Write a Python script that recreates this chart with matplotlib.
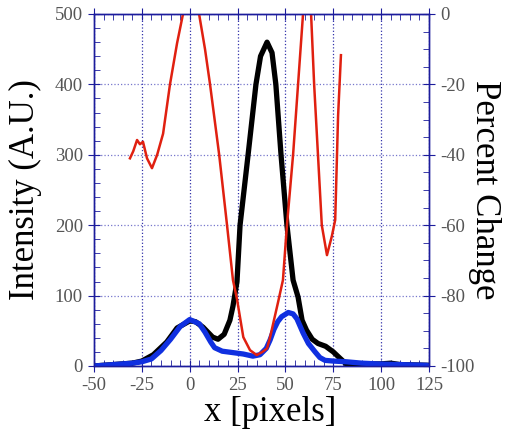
import matplotlib
matplotlib.use("Agg")
import matplotlib.pyplot as plt
from matplotlib.ticker import MultipleLocator

# intensity curves (left axis)
black_x = [-50, -40, -30, -25, -19, -12, -6.6, 0, 3, 7, 12, 14.8, 18, 21, 22.6, 24.7, 26.3,
           30.5, 34.6, 37, 40.4, 43, 45, 47.7, 50.8, 54, 56.6, 58.7, 61, 64, 67, 71,
           75, 78.5, 81.7, 90, 100, 105, 110, 125]
black_y = [0, 2, 4, 7, 16, 34, 54, 64, 63, 55, 41, 38, 45, 65, 85, 120, 200,
           300, 400, 440, 460, 445, 400, 300, 200, 122, 98, 65, 51, 38, 32, 28,
           20, 11, 3, 3, 3, 4, 2, 1]

blue_x = [-50, -40, -30, -25, -20, -15, -10, -5, 0, 5, 8, 11, 13, 17, 22.6, 28, 33,
          36.7, 40, 42, 44, 46, 48, 51.5, 54, 56, 59.2, 62, 65.5, 68, 70.7, 75, 81.7,
          90, 98, 110, 124]
blue_y = [0, 2, 4, 6, 10, 22, 38, 56, 66, 60, 48, 34, 26, 21, 19, 17, 14,
          16, 25, 37, 52, 63, 70, 76, 74, 67, 47, 32, 20, 12, 8, 7, 6,
          4, 3, 2, 1]

# percent change (right axis)
red_x = [-31.2, -29.5, -27.5, -26, -24.4, -22.3, -19.7, -17, -13.9, -10.3, -6.6, -3.5,
         0, 3, 4.9, 8, 10.6, 15.4, 19.5, 22.6, 24.7, 28, 31.5, 35, 38, 40.4, 42, 46.1,
         48.7, 50.8, 54, 56.6, 59.2, 61, 63.4, 65, 67, 69, 71.7, 74.3, 76, 77.5, 79]
red_y = [-41, -39, -35.8, -37, -36.3, -41, -43.8, -40, -34, -20, -8.3, 0,
         8, 6, 0, -10, -19.9, -40, -60, -75.6, -81, -91.8, -95.5, -96.9, -96, -95, -91.8, -82,
         -75.6, -60, -40, -20, 0, 6, 0, -20, -40, -60, -68.5, -63, -58.5, -29, -11.7]

x_ticks = [-50, -25, 0, 25, 50, 75, 100, 125]
left_ticks = [0, 100, 200, 300, 400, 500]
right_ticks = [0, -20, -40, -60, -80, -100]

plt.rcParams['font.family'] = ['Liberation Serif', 'DejaVu Serif']
plt.rcParams['axes.unicode_minus'] = False
navy = '#1c1c9c'
gray = '#555555'

fig = plt.figure(figsize=(5.08, 4.32), dpi=100)
ax = fig.add_axes([0.185, 0.1528, 0.6595, 0.8148])
ax2 = ax.twinx()

ax.plot(black_x, black_y, color='black', lw=3.8, solid_capstyle='round', zorder=3)
ax.plot(blue_x, blue_y, color='#1030e0', lw=3.8, solid_capstyle='round', zorder=4)
ax2.plot(red_x, red_y, color='#e02010', lw=1.8)

ax.set_xlim(-50, 125)
ax.set_ylim(0, 500)
ax2.set_ylim(-100, 0)

ax.set_xticks(x_ticks)
ax.set_yticks(left_ticks)
ax2.set_yticks(right_ticks)
ax.xaxis.set_minor_locator(MultipleLocator(5))
ax.yaxis.set_minor_locator(MultipleLocator(20))
ax2.yaxis.set_minor_locator(MultipleLocator(5))

ax.grid(True, axis='x', which='major', color='#3333aa', linestyle=':', lw=0.9)
ax.grid(True, axis='y', which='major', color='#7777cc', linestyle=':', lw=0.9)

for a in (ax, ax2):
    for s in a.spines.values():
        s.set_color(navy)
        s.set_linewidth(1.0)

ax.tick_params(which='major', direction='inout', length=9, color=navy, labelsize=13.5,
               labelcolor=gray, top=True)
ax.tick_params(which='minor', direction='in', length=4, color=navy, top=True)
ax2.tick_params(which='major', direction='inout', length=9, color=navy, labelsize=13.5,
                labelcolor=gray)
ax2.tick_params(which='minor', direction='in', length=4, color=navy)

ax.set_xlabel('x [pixels]', fontsize=25)
ax.set_ylabel('Intensity (A.U.)', fontsize=25)
ax2.set_ylabel('Percent Change', fontsize=25, rotation=270, va='bottom')
ax.xaxis.set_label_coords(0.525, -0.085)
ax.yaxis.set_label_coords(-0.155, 0.5)
ax2.yaxis.set_label_coords(1.116, 0.5)

fig.savefig('out.png', dpi=100)
